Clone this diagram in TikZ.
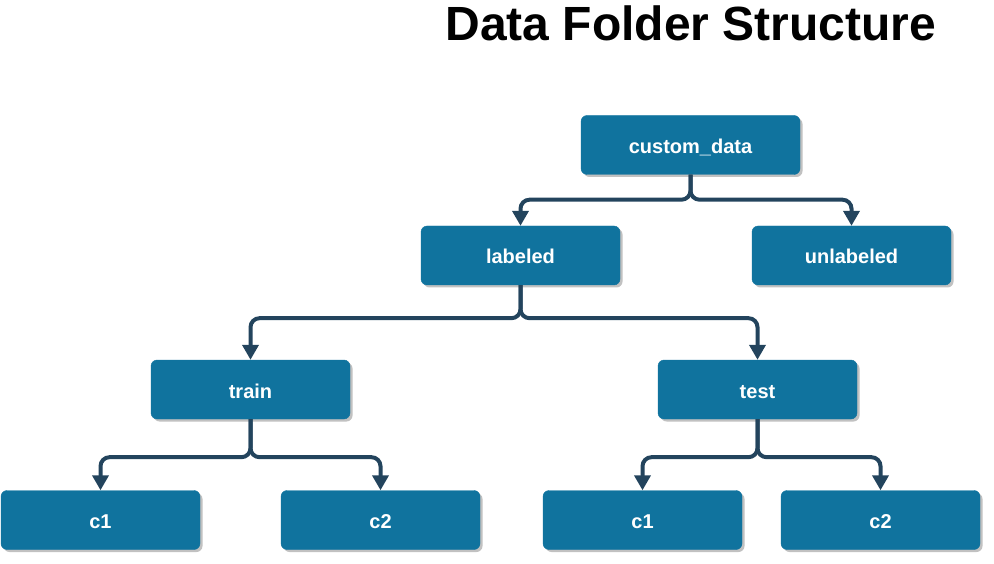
\documentclass[tikz,border=0pt]{standalone}
\usepackage{fontspec}
\setmainfont{Liberation Sans}
\usetikzlibrary{arrows.meta,shadows,calc}
\definecolor{boxblue}{HTML}{10739E}
\definecolor{linecol}{HTML}{23445D}
\tikzset{
  folder/.style={rectangle, rounded corners=6pt, fill=boxblue, draw=boxblue,
    minimum width=199pt, minimum height=59pt, inner sep=0pt,
    text=white, font=\fontsize{20}{22}\selectfont\bfseries,
    text height=17pt, text depth=0pt,
    drop shadow={shadow xshift=2.5pt, shadow yshift=-2.5pt, opacity=0.35, fill=black!70}},
  conn/.style={draw=linecol, line width=4pt, rounded corners=9pt,
    -{Triangle[width=16pt,length=15pt]}},
  titletext/.style={font=\fontsize{48}{52}\selectfont\bfseries, text=black, inner sep=0pt}
}
\begin{document}
\begin{tikzpicture}[x=1pt,y=-1pt]
\useasboundingbox (0,0) rectangle (994,564);
\node[titletext, anchor=base] (title) at (691,41) {Data Folder Structure};
\node[folder, minimum width=219pt] (cd) at (690.5,145) {custom\_data};
\node[folder] (lab) at (520.5,255.5) {labeled};
\node[folder] (unl) at (851.5,255.5) {unlabeled};
\node[folder] (train) at (250.5,389.5) {train};
\node[folder] (test) at (757.5,389.5) {test};
\node[folder] (c1a) at (100.5,520) {c1};
\node[folder] (c2a) at (380.5,520) {c2};
\node[folder] (c1b) at (642.5,520) {c1};
\node[folder] (c2b) at (880.5,520) {c2};
\draw[conn] (cd.south) -- ++(0,25) -| (lab.north);
\draw[conn] (cd.south) -- ++(0,25) -| (unl.north);
\draw[conn] (lab.south) -- ++(0,33) -| (train.north);
\draw[conn] (lab.south) -- ++(0,33) -| (test.north);
\draw[conn] (train.south) -- ++(0,38) -| (c1a.north);
\draw[conn] (train.south) -- ++(0,38) -| (c2a.north);
\draw[conn] (test.south) -- ++(0,38) -| (c1b.north);
\draw[conn] (test.south) -- ++(0,38) -| (c2b.north);
\end{tikzpicture}
\end{document}
